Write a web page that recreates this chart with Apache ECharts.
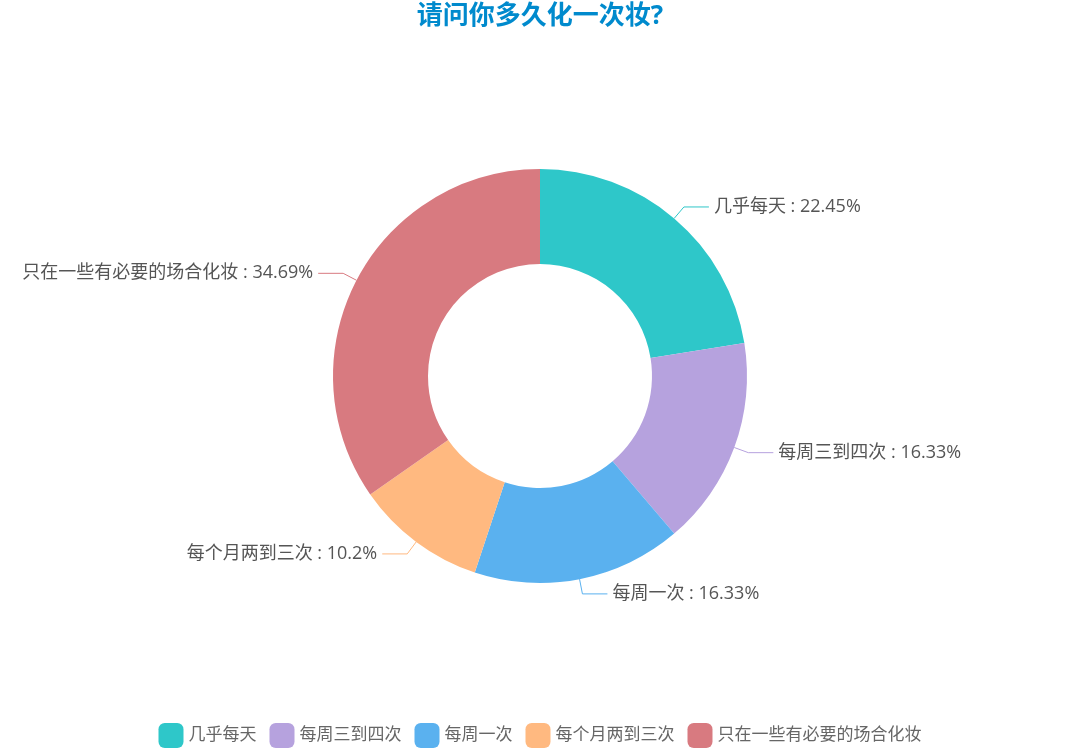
<!DOCTYPE html>
<html>
<head>
<meta charset="utf-8">
<script src="https://cdn.jsdelivr.net/npm/echarts@6/dist/echarts.min.js"></script>
<style>
html,body{margin:0;padding:0;background:#fff;}
#main{width:1080px;height:753px;}
</style>
</head>
<body>
<div id="main"></div>
<script>
var titleText = '请问你多久化一次妆?';
var categories = ['几乎每天', '每周三到四次', '每周一次', '每个月两到三次', '只在一些有必要的场合化妆'];
var counts = [11, 8, 8, 5, 17];
var colors = ['#2ec7c9', '#b6a2de', '#5ab1ef', '#ffb980', '#d87a80'];

var chart = echarts.init(document.getElementById('main'));
var font = '"Open Sans", "Noto Sans CJK SC", sans-serif';
chart.setOption({
  color: colors,
  textStyle: { fontFamily: font },
  title: {
    text: titleText,
    left: 'center',
    top: -1,
    textStyle: { color: '#008acd', fontSize: 26, fontWeight: 'bold', fontFamily: font }
  },
  legend: {
    data: categories,
    bottom: 0,
    left: 'center',
    itemWidth: 25,
    itemHeight: 25,
    itemGap: 13,
    icon: 'roundRect',
    textStyle: { fontSize: 17, color: '#666', fontFamily: font }
  },
  series: [{
    type: 'pie',
    center: [540, 376],
    radius: [112, 207],
    startAngle: 90,
    data: categories.map(function (c, i) { return { name: c, value: counts[i] }; }),
    label: {
      formatter: '{b} : {d}%',
      fontSize: 18,
      color: '#555',
      fontFamily: font
    },
    labelLine: { length: 15, length2: 25 }
  }]
});
</script>
</body>
</html>
